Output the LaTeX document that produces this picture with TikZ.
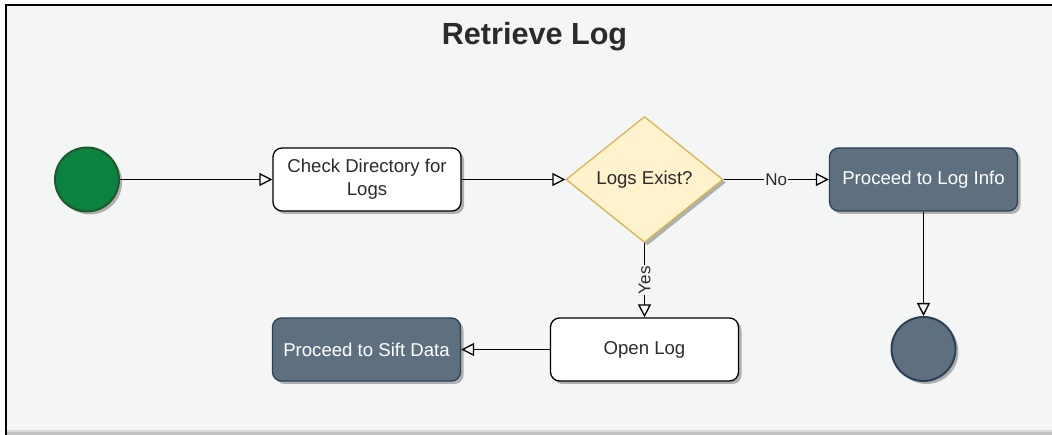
\documentclass[tikz,border=0pt]{standalone}
\usepackage{fontspec}
\setmainfont{Liberation Sans}
\usetikzlibrary{arrows.meta,shapes.geometric,shadows}

\definecolor{canvas}{HTML}{F4F5F5}
\definecolor{barlight}{HTML}{D9D9D9}
\definecolor{bardark}{HTML}{C2C2C2}
\definecolor{inkgray}{HTML}{2B2B2B}
\definecolor{startfill}{HTML}{0B8240}
\definecolor{startline}{HTML}{1D5A2B}
\definecolor{slatefill}{HTML}{5E6F80}
\definecolor{slateline}{HTML}{2C4155}
\definecolor{decfill}{HTML}{FFF2CC}
\definecolor{decline}{HTML}{D6B656}

\tikzset{
  softshadow/.style={drop shadow={shadow xshift=3pt,shadow yshift=-3pt,fill=black,opacity=0.28}},
  basetext/.style={font=\fontsize{18.6}{23}\selectfont, align=center},
  stepbox/.style={basetext, rectangle, rounded corners=9pt, minimum width=188pt,
    minimum height=63pt, draw=black, line width=1.3pt, fill=white, text=inkgray, softshadow},
  exitbox/.style={stepbox, draw=slateline, fill=slatefill, text=white},
  decision/.style={basetext, diamond, aspect=1.25, minimum width=157pt, minimum height=126pt,
    inner sep=2pt, draw=decline, line width=1.3pt, fill=decfill, text=inkgray, softshadow},
  startdot/.style={circle, minimum size=64pt, inner sep=0pt, draw=startline, fill=startfill,
    line width=2pt, softshadow},
  enddot/.style={circle, minimum size=64pt, inner sep=0pt, draw=slateline, fill=slatefill,
    line width=2pt, softshadow},
  conn/.style={draw=black, line width=1.3pt, -{Triangle[open,length=13pt,width=13pt]}},
  edgelabel/.style={font=\fontsize{17}{20}\selectfont, text=inkgray, fill=canvas, inner sep=1pt}
}

\begin{document}
\begin{tikzpicture}[x=1pt,y=-1pt]
  % page and canvas frame
  \fill[white] (0,0) rectangle (1052,435);
  \useasboundingbox (0,0) rectangle (1052,435);
  \fill[canvas] (6,5) rectangle (1052,430);
  \fill[barlight] (6,430) rectangle (1052,432);
  \fill[bardark] (6,432) rectangle (1052,435);
  \draw[line width=2pt] (6,435) -- (6,5) -- (1052,5);

  % title
  \node[font=\fontsize{30.6}{36}\selectfont\bfseries, text=inkgray] (title) at (534.5,37) {Retrieve Log};

  % flow nodes
  \node[startdot] (start) at (87,179.5) {};
  \node[stepbox] (check) at (367,179.5) {Check Directory for\\Logs};
  \node[decision] (exists) at (644.5,179.5) {Logs Exist?};
  \node[exitbox] (loginfo) at (923.5,179.5) {Proceed to Log Info};
  \node[enddot] (finish) at (923.5,349) {};
  \node[stepbox] (open) at (644.5,349.5) {Open Log};
  \node[exitbox] (sift) at (366.5,349.5) {Proceed to Sift Data};

  % connectors
  \draw[conn] (start) -- (check);
  \draw[conn] (check) -- (exists);
  \draw[conn] (exists) -- node[edgelabel] (nolabel) {No} (loginfo);
  \draw[conn] (exists) -- node[edgelabel, rotate=90] (yeslabel) {Yes} (open);
  \draw[conn] (loginfo) -- (finish);
  \draw[conn] (open) -- (sift);
\end{tikzpicture}
\end{document}
